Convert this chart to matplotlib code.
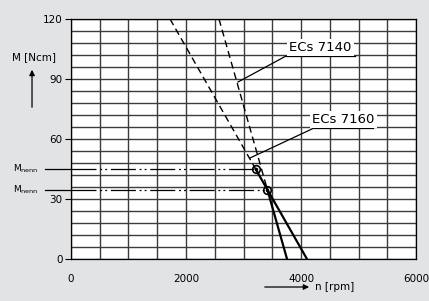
"""Torque vs speed characteristic for ECs 7140 / ECs 7160."""

import matplotlib.pyplot as plt
import numpy as np

# speed [rpm] at M = 120 Ncm and at M = 0, rated point (n, M)
motors = ["ECs 7140", "ECs 7160"]
n_at_top = [2574, 1722]
n_at_zero = [3757, 4104]
rated_n = [3417, 3211]
rated_m = [34.5, 45.0]

x_ticks = [0, 2000, 4000, 6000]
y_ticks = [0, 30, 60, 90, 120]

BG = "#e2e3e5"

fig = plt.figure(figsize=(4.29, 3.01), dpi=100, facecolor=BG)
ax = fig.add_axes([0.1655, 0.1395, 0.8042, 0.7973])
ax.set_facecolor("white")
ax.set_xlim(0, 6000)
ax.set_ylim(0, 120)

# grid: every 500 rpm and every 6 Ncm
for x in np.arange(0, 6001, 500):
    ax.axvline(x, color="#3c3c3c", lw=1.0, zorder=1)
for y in np.arange(0, 121, 6):
    ax.axhline(y, color="#3c3c3c", lw=1.0, zorder=1)

for i, name in enumerate(motors):
    m_top, m0 = 120, 0
    n_top, n0 = n_at_top[i], n_at_zero[i]
    # dashed part above the rated point, solid below
    ax.plot([n_top, rated_n[i]], [m_top, rated_m[i]], color="black", lw=1.0,
            dashes=(5, 3), zorder=3)
    ax.plot([rated_n[i], n0], [rated_m[i], m0], color="black", lw=1.6, zorder=3)
    ax.plot([0, rated_n[i]], [rated_m[i], rated_m[i]], color="black", lw=0.9,
            dashes=(20, 3, 1.5, 2.5, 1.5, 3), zorder=3)
    ax.plot(rated_n[i], rated_m[i], marker="o", ms=5.5, mfc="none", mec="black",
            mew=1.2, zorder=4)
    ax.plot(rated_n[i], rated_m[i], marker="o", ms=1.5, color="black", zorder=4)
    # M_nenn label
    ax.plot([-450, 0], [rated_m[i], rated_m[i]], color="black", lw=0.9,
            clip_on=False)
    ax.text(-560, rated_m[i], r"M$_{\mathrm{nenn}}$", ha="right", va="center",
            fontsize=6.5)

# motor labels with underline and leader
labels = {
    "ECs 7140": ((3739, 4939, 101.5), (2904, 88.5)),
    "ECs 7160": ((4226, 5252, 65.5), (3113, 50.5)),
}
for name, ((u0, u1, um), (px, pm)) in labels.items():
    ax.plot([u0, u1], [um, um], color="black", lw=0.9, zorder=5)
    ax.plot([u0, px], [um, pm], color="black", lw=0.9, zorder=5)
    ax.text((u0 + u1) / 2, um + 1.2, name, ha="center", va="bottom",
            fontsize=9.5, zorder=6,
            bbox=dict(facecolor="white", edgecolor="none", pad=1.5))

for side in ["top", "right", "bottom", "left"]:
    ax.spines[side].set_linewidth(0.9)
ax.set_xticks(x_ticks)
ax.set_yticks(y_ticks)
ax.tick_params(axis="x", length=0, pad=11, labelsize=7.5)
ax.tick_params(axis="y", length=4, width=0.8, pad=2, labelsize=7.5)

# axis labels with arrows
ax.text(-650, 101, "M [Ncm]", ha="center", va="center", fontsize=7.5)
ax.annotate("", xy=(-678, 96), xytext=(-678, 74.5), xycoords="data",
            arrowprops=dict(arrowstyle="-|>", color="black", lw=0.9,
                            mutation_scale=8), annotation_clip=False)
ax.text(4243, -14, "n [rpm]", ha="left", va="center", fontsize=7.5)
ax.annotate("", xy=(4190, -14), xytext=(3322, -14), xycoords="data",
            arrowprops=dict(arrowstyle="-|>", color="black", lw=0.9,
                            mutation_scale=8), annotation_clip=False)

fig.savefig("out.png", dpi=100, facecolor=BG)
